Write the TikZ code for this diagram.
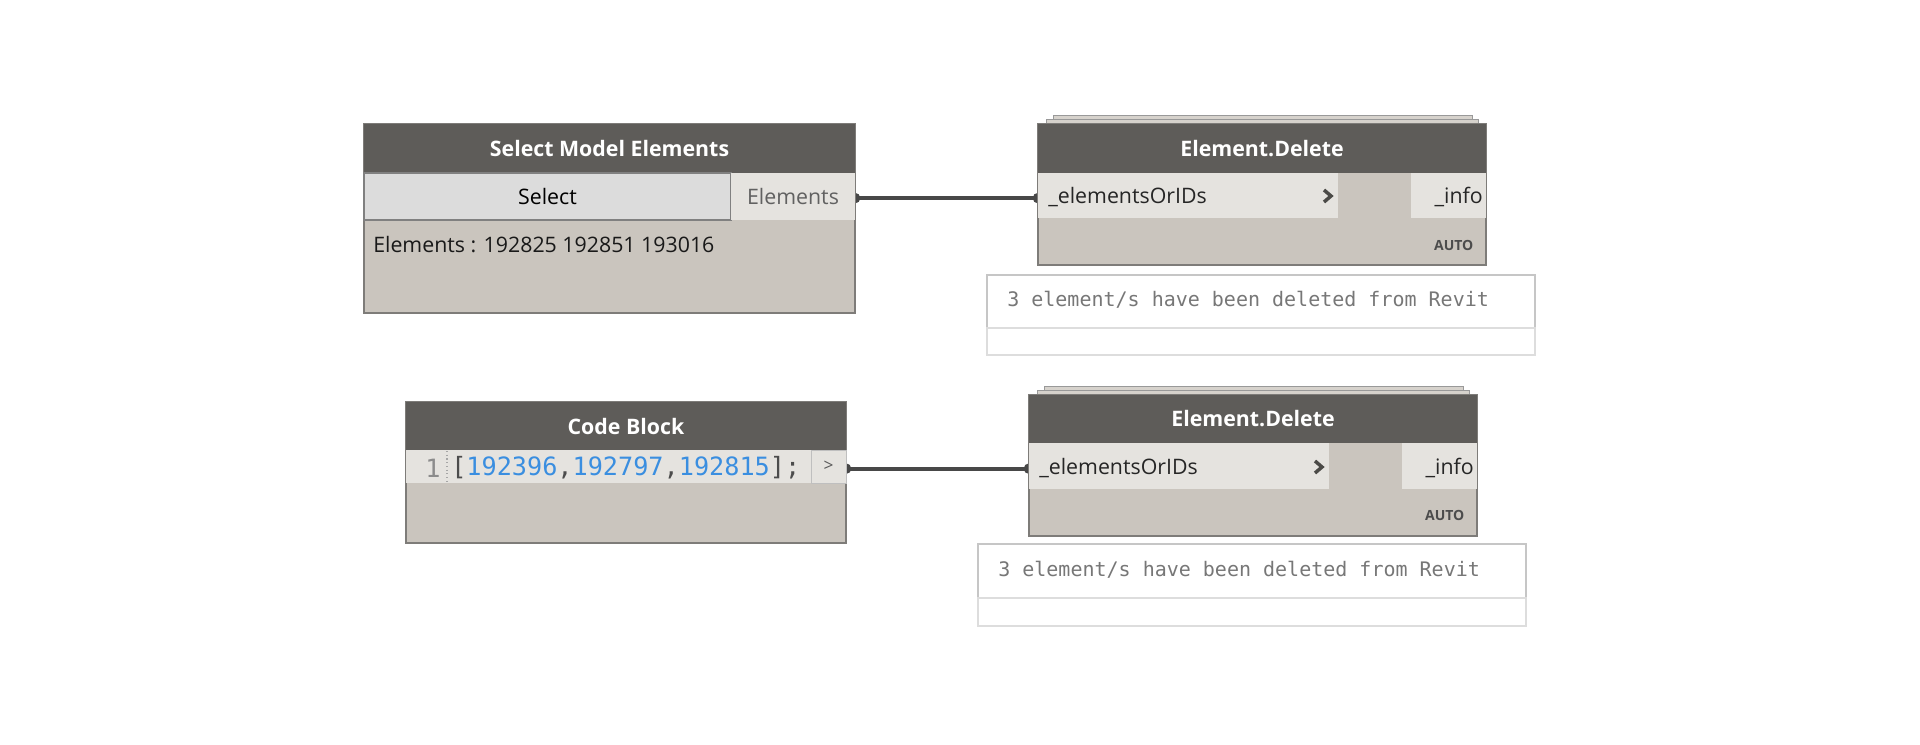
\documentclass[tikz,border=0pt]{standalone}
\usepackage{fontspec}
\setmainfont{Open Sans}
\setmonofont{DejaVu Sans Mono}
\usetikzlibrary{backgrounds}

\definecolor{hdrgray}{HTML}{5E5C59}
\definecolor{bodygray}{HTML}{CAC5BE}
\definecolor{portgray}{HTML}{E5E3DF}
\definecolor{btngray}{HTML}{DCDCDC}
\definecolor{edgegray}{HTML}{7E7C79}
\definecolor{wiregray}{HTML}{484848}
\definecolor{infoedge}{HTML}{C6C6C6}
\definecolor{infotext}{HTML}{777777}
\definecolor{codeblue}{HTML}{3A8EE0}
\definecolor{platefill}{HTML}{D6D2CC}

\newcommand\nodefont{\fontsize{16}{19}\selectfont}
\newcommand\infofont{\ttfamily\fontsize{15}{17}\selectfont}
\newcommand\codefont{\ttfamily\fontsize{18.9}{22}\selectfont}

\tikzset{
  wh/.style 2 args={minimum width=#1*0.75pt,minimum height=#2*0.75pt},
  box/.style={anchor=north west,inner sep=0pt,outer sep=0pt},
  body/.style={box,fill=bodygray,draw=edgegray,line width=0.9pt},
  header/.style={box,fill=hdrgray,text=white,font=\nodefont\bfseries},
  port/.style={box,fill=portgray,font=\nodefont},
  plate/.style={fill=platefill,draw=gray!80,line width=0.6pt},
  info/.style={box,draw=infoedge,line width=0.9pt,fill=white},
  infolow/.style={box,draw=infoedge!60,line width=0.9pt,fill=white},
  wire/.style={draw=wiregray,line width=3pt},
  pin/.style={fill=wiregray},
  chev/.style={draw=hdrgray!80!black,line width=2.6pt,line cap=butt,line join=miter},
  auto/.style={anchor=east,font=\fontsize{10.5}{12}\selectfont\bfseries,text=black!70}
}

\begin{document}
\begin{tikzpicture}[x=0.75pt,y=-0.75pt]
  \useasboundingbox (0,0) rectangle (1920,744);

  % Select Model Elements
  \node[body,wh={491}{189}] (smeBody) at (364,124) {};
  \node[header,wh={491}{49}] (smeHead) at (364,124) {Select Model Elements};
  \node[box,wh={367}{47},fill=btngray,draw=gray,line width=0.8pt,font=\nodefont] (smeSelect) at (364,173) {Select};
  \node[port,wh={124}{47},text=black!62] (smeOut) at (731,173) {Elements};
  \node[anchor=west,inner sep=0pt,font=\nodefont,text=black!90] (smeValue) at (373,245) {Elements : 192825 192851 193016};

  % Element.Delete (top)
  \draw[plate] (1053,115) rectangle (1472,119);
  \draw[plate] (1046,119) rectangle (1478,124);
  \node[body,wh={448}{141}] (delABody) at (1038,124) {};
  \node[header,wh={448}{49}] (delAHead) at (1038,124) {Element.Delete};
  \node[port,wh={300}{45}] (delAIn) at (1038,173) {};
  \node[anchor=west,inner sep=0pt,font=\nodefont,text=black!85] (delAInText) at (1048,197) {\_elementsOrIDs};
  \draw[chev] (1324,190) -- (1331,196) -- (1324,202);
  \node[port,wh={75}{45}] (delAOut) at (1411,173) {};
  \node[anchor=east,inner sep=0pt,font=\nodefont,text=black!85] (delAOutText) at (1483,197) {\_info};
  \node[auto] (delAAuto) at (1478,245) {AUTO};
  \node[info,wh={548}{53}] (delAInfo) at (987,275) {};
  \node[infolow,wh={548}{27}] (delAInfoLow) at (987,328) {};
  \node[anchor=west,inner sep=0pt,font=\infofont,text=infotext] (delAMsg) at (1007,300) {3 element/s have been deleted from Revit};

  % Code Block
  \node[body,wh={440}{141}] (cbBody) at (406,402) {};
  \node[header,wh={440}{48}] (cbHead) at (406,402) {Code Block};
  \node[port,wh={405}{33}] (cbLine) at (406,450) {};
  \node[port,wh={35}{33},draw=black!25,line width=0.6pt,font=\fontsize{13}{15}\selectfont,text=black!65] (cbOut) at (811,450) {>};
  \node[inner sep=0pt,font=\codefont,text=black!45] (cbNum) at (433,468) {1};
  \draw[black!35,dotted,line width=0.8pt] (447,451) -- (447,482);
  \node[anchor=west,inner sep=0pt,font=\codefont,text=black!70] (cbCode) at (451,468)
    {[\textcolor{codeblue}{192396},\textcolor{codeblue}{192797},\textcolor{codeblue}{192815}];};

  % Element.Delete (bottom)
  \draw[plate] (1044,386) rectangle (1463,390);
  \draw[plate] (1037,390) rectangle (1469,395);
  \node[body,wh={448}{141}] (delBBody) at (1029,395) {};
  \node[header,wh={448}{48}] (delBHead) at (1029,395) {Element.Delete};
  \node[port,wh={300}{46}] (delBIn) at (1029,443) {};
  \node[anchor=west,inner sep=0pt,font=\nodefont,text=black!85] (delBInText) at (1039,468) {\_elementsOrIDs};
  \draw[chev] (1315,461) -- (1322,467) -- (1315,473);
  \node[port,wh={75}{46}] (delBOut) at (1402,443) {};
  \node[anchor=east,inner sep=0pt,font=\nodefont,text=black!85] (delBOutText) at (1474,468) {\_info};
  \node[auto] (delBAuto) at (1469,515) {AUTO};
  \node[info,wh={548}{54}] (delBInfo) at (978,544) {};
  \node[infolow,wh={548}{28}] (delBInfoLow) at (978,598) {};
  \node[anchor=west,inner sep=0pt,font=\infofont,text=infotext] (delBMsg) at (998,570) {3 element/s have been deleted from Revit};

  % wires
  \begin{pgfonlayer}{background}
    \fill[white] (0,0) rectangle (1920,744);
    \coordinate (smePin) at ([yshift=-1.2pt]smeOut.east);
    \coordinate (cbPin) at ([yshift=-1.6pt]cbOut.east);
    \coordinate (delAPin) at (delAIn.west |- smePin);
    \coordinate (delBPin) at (delBIn.west |- cbPin);
    \draw[wire] (smePin) -- (delAPin);
    \fill[pin] (smePin) circle (4pt);
    \fill[pin] (delAPin) circle (4pt);
    \draw[wire] (cbPin) -- (delBPin);
    \fill[pin] (cbPin) circle (4pt);
    \fill[pin] (delBPin) circle (4pt);
  \end{pgfonlayer}
\end{tikzpicture}
\end{document}
